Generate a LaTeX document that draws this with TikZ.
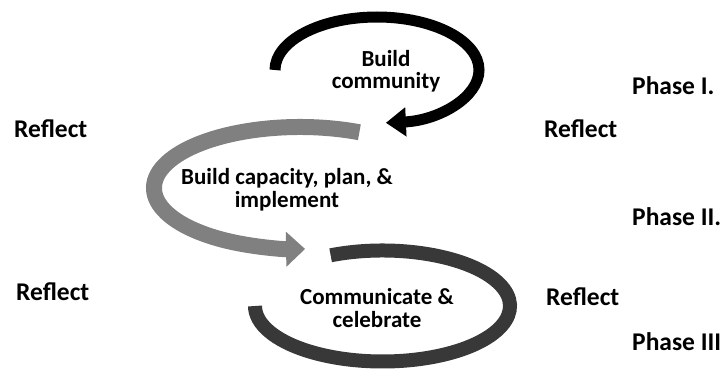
\documentclass[tikz,border=0pt]{standalone}
\usepackage{fontspec}
\setmainfont{Carlito}
\usetikzlibrary{arrows.meta}
\definecolor{arcblack}{HTML}{000000}
\definecolor{arcgray}{HTML}{808080}
\definecolor{arcdark}{HTML}{383838}
\begin{document}
\begin{tikzpicture}[x=1pt,y=-1pt,
  lbl/.style={font=\fontsize{25.5}{25.5}\selectfont\bfseries, inner sep=0pt, anchor=base west},
  ctext/.style={font=\fontsize{23}{22.5}\selectfont\bfseries, inner sep=0pt, align=center},
  band/.style={line cap=butt}]
\useasboundingbox (0,0) rectangle (724,369);

% ellipse centres
\coordinate (cb) at (377,70);
\coordinate (cg) at (300,188);
\coordinate (cd) at (382.5,306);

% black arc (Phase I)
\draw[band, arcblack, line width=11pt, -{Triangle[width=28pt,length=20pt]}]
  (cb) ++(180:102 and 53) arc[start angle=180, end angle=445, x radius=102, y radius=53];

% gray arc (Phase II)
\draw[band, arcgray, line width=16pt, -{Triangle[width=34pt,length=19pt]}]
  (cg) ++(294:146 and 61) arc[start angle=294, end angle=88, x radius=146, y radius=61];

% dark arc (Phase III)
\draw[band, arcdark, line width=14pt]
  (cd) ++(246:127.5 and 55.5) arc[start angle=246, end angle=540, x radius=127.5, y radius=55.5];

% centre texts
\node[ctext] (t1) at (386,71) {Build\\community};
\node[ctext] (t2) at (287,189.5) {Build capacity, plan, \&\\implement};
\node[ctext] (t3) at (377,308) {Communicate \&\\celebrate};

% side labels
\node[lbl] (r1) at (14,138) {Reflect};
\node[lbl] (r2) at (544,138) {Reflect};
\node[lbl] (r3) at (16,300) {Reflect};
\node[lbl] (r4) at (546,305) {Reflect};
\node[lbl] (p1) at (632,95) {Phase I.};
\node[lbl] (p2) at (632,225) {Phase II.};
\node[lbl] (p3) at (632,350) {Phase III};
\end{tikzpicture}
\end{document}
